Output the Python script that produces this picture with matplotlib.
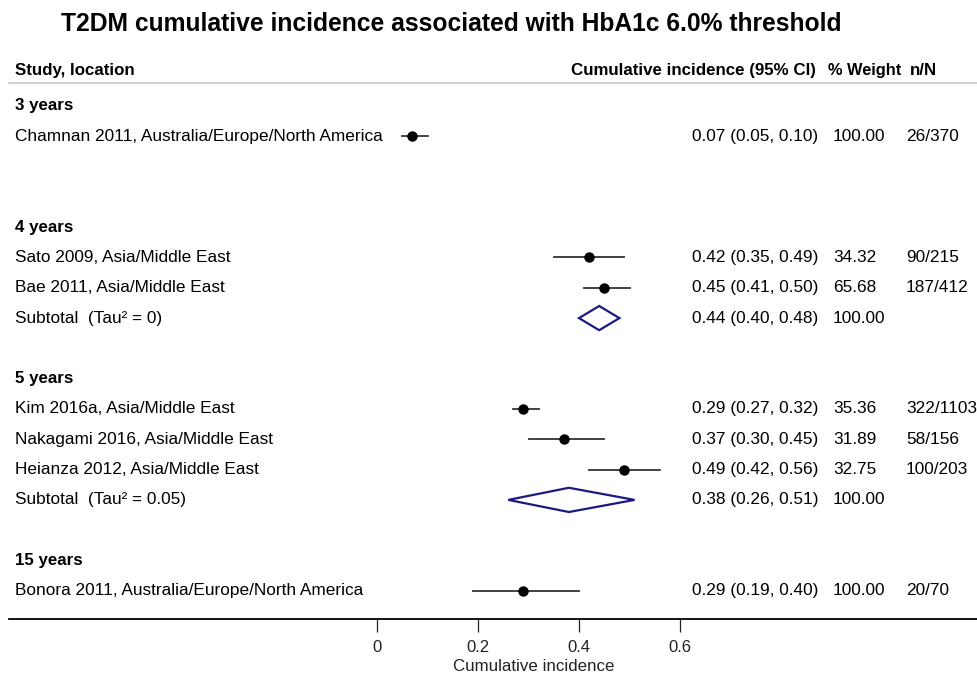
import matplotlib
matplotlib.use("Agg")
import matplotlib.pyplot as plt
from matplotlib.patches import Polygon
from matplotlib.transforms import blended_transform_factory

plt.rcParams["font.family"] = ["Liberation Sans", "DejaVu Sans"]

# groups of studies (duration of follow-up)
groups = ["3 years", "4 years", "5 years", "15 years"]
studies = [
    ["Chamnan 2011, Australia/Europe/North America"],
    ["Sato 2009, Asia/Middle East", "Bae 2011, Asia/Middle East"],
    ["Kim 2016a, Asia/Middle East", "Nakagami 2016, Asia/Middle East",
     "Heianza 2012, Asia/Middle East"],
    ["Bonora 2011, Australia/Europe/North America"],
]
est = [[0.07], [0.42, 0.45], [0.29, 0.37, 0.49], [0.29]]
lo = [[0.05], [0.35, 0.41], [0.27, 0.30, 0.42], [0.19]]
hi = [[0.10], [0.49, 0.50], [0.32, 0.45, 0.56], [0.40]]
weights = [["100.00"], ["34.32", "65.68"], ["35.36", "31.89", "32.75"], ["100.00"]]
counts = [["26/370"], ["90/215", "187/412"],
          ["322/1103", "58/156", "100/203"], ["20/70"]]

# subtotals (None when only one study)
sub_label = [None, "Subtotal  (Tau\u00b2 = 0)", "Subtotal  (Tau\u00b2 = 0.05)", None]
sub_est = [None, 0.44, 0.38, None]
sub_lo = [None, 0.40, 0.26, None]
sub_hi = [None, 0.48, 0.51, None]

xticks = [0, 0.2, 0.4, 0.6]

W, H = 978, 677
fig = plt.figure(figsize=(W / 100, H / 100), dpi=100)
ax = fig.add_axes([9 / W, 1 - 619 / H, 969 / W, (619 - 83) / H])
ax.set_xlim((9 - 377) / 505, (978 - 377) / 505)
rowh = 30.3
ax.set_ylim(1 + (619 - 106) / rowh, 1 + (83 - 106) / rowh)

for s in ["left", "right"]:
    ax.spines[s].set_visible(False)
ax.spines["top"].set_color("#c8c8c8")
ax.spines["top"].set_linewidth(1.2)
ax.spines["bottom"].set_linewidth(1.3)
ax.set_yticks([])
ax.set_xticks(xticks)
ax.set_xticklabels(["0", "0.2", "0.4", "0.6"])
ax.tick_params(axis="x", direction="out", length=9.5, width=0.9, pad=5.5,
               labelsize=12, colors="#222222")

tr = blended_transform_factory(fig.transFigure, ax.transData)
fs = 12.4
hfs = 12.2
col_name, col_es, col_w, col_n = 15 / W, 692 / W, 833 / W, 906 / W

# header
hy = 1 + (71 - 106) / rowh
ax.text(col_name, hy, "Study, location", transform=tr, fontsize=hfs,
        fontweight="bold", va="center", clip_on=False)
ax.text(571 / W, hy, "Cumulative incidence (95% CI)", transform=tr, fontsize=hfs,
        fontweight="bold", va="center", clip_on=False)
ax.text(828 / W, hy, "% Weight", transform=tr, fontsize=11.8,
        fontweight="bold", va="center", clip_on=False)
ax.text(910 / W, hy, "n/N", transform=tr, fontsize=hfs,
        fontweight="bold", va="center", clip_on=False)

row = 1
for g in range(len(groups)):
    ax.text(col_name, row, groups[g], transform=tr, fontsize=hfs,
            fontweight="bold", va="center")
    row += 1
    for i, name in enumerate(studies[g]):
        e, l, h = est[g][i], lo[g][i], hi[g][i]
        ax.plot([l, h], [row, row], color="#333333", lw=1.3, zorder=2)
        ax.plot(e, row, "o", color="black", ms=6.5, zorder=3)
        ax.text(col_name, row, name, transform=tr, fontsize=fs, va="center")
        ax.text(col_es, row, f"{e:.2f} ({l:.2f}, {h:.2f})", transform=tr,
                fontsize=fs, va="center")
        ax.text(col_w, row, weights[g][i], transform=tr, fontsize=fs, va="center")
        ax.text(col_n, row, counts[g][i], transform=tr, fontsize=fs, va="center",
                clip_on=False)
        row += 1
    if sub_est[g] is not None:
        e, l, h = sub_est[g], sub_lo[g], sub_hi[g]
        d = 0.4
        ax.add_patch(Polygon([[l, row], [e, row - d], [h, row], [e, row + d]],
                             closed=True, fill=False, edgecolor="#1a1a80",
                             lw=1.6, joinstyle="miter", zorder=3))
        ax.text(col_name, row, sub_label[g], transform=tr, fontsize=fs, va="center")
        ax.text(col_es, row, f"{e:.2f} ({l:.2f}, {h:.2f})", transform=tr,
                fontsize=fs, va="center")
        ax.text(col_w, row, "100.00", transform=tr, fontsize=fs, va="center")
    row += 2

ax.set_xlabel("Cumulative incidence", fontsize=12.2, color="#222222")
ax.xaxis.set_label_coords(0.31, -0.074,
                          transform=blended_transform_factory(ax.transData, ax.transAxes))

fig.text(451 / W, 1 - 24 / H,
         "T2DM cumulative incidence associated with HbA1c 6.0% threshold",
         fontsize=17.7, fontweight="bold", ha="center", va="center")

fig.savefig("out.png", dpi=100, facecolor="white")
